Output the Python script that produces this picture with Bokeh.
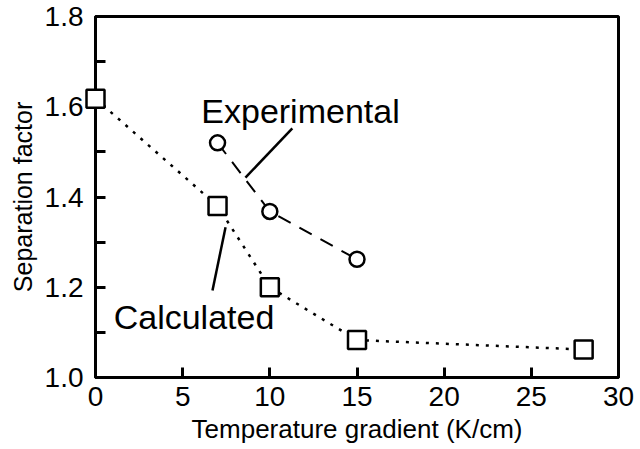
from bokeh.plotting import figure
from bokeh.models import Range1d, FixedTicker, ColumnDataSource
from bokeh.core.properties import value
from bokeh.embed import file_html
from bokeh.resources import INLINE

# Data
calc_x = [0, 7, 10, 15, 28]
calc_y = [1.618, 1.38, 1.20, 1.083, 1.062]
exp_x = [7, 10, 15]
exp_y = [1.52, 1.368, 1.262]

x_ticks = [0, 5, 10, 15, 20, 25, 30]
y_ticks = [1.0, 1.2, 1.4, 1.6, 1.8]
y_minor = [1.1, 1.3, 1.5, 1.7]
y_labels = ["1.0", "1.2", "1.4", "1.6", "1.8"]

# Annotation labels and leader lines (data coordinates)
ann_text = ["Experimental", "Calculated"]
ann_x = [11.76, 5.65]
ann_y = [1.59, 1.135]
lead_x0 = [11.29, 7.46]
lead_y0 = [1.552, 1.333]
lead_x1 = [8.6, 6.71]
lead_y1 = [1.443, 1.193]

FONT = "Liberation Sans"

p = figure(width=640, height=449, output_backend="svg", toolbar_location=None,
           x_range=Range1d(0, 30), y_range=Range1d(1.0, 1.8),
           min_border_left=95, min_border_right=22, min_border_top=16, min_border_bottom=72)

p.background_fill_color = "white"
p.border_fill_color = "white"
p.grid.visible = False
p.outline_line_color = "black"
p.outline_line_width = 3
p.outline_line_alpha = 1.0

for ax in (p.xaxis[0], p.yaxis[0]):
    ax.axis_line_width = 3
    ax.axis_line_color = "black"
    ax.major_tick_line_width = 3
    ax.minor_tick_line_width = 3
    ax.major_tick_in = 10
    ax.major_tick_out = 0
    ax.minor_tick_in = 10
    ax.minor_tick_out = 0
    ax.major_label_text_font = FONT
    ax.major_label_text_font_size = "28px"
    ax.major_label_text_color = "black"
    ax.axis_label_text_font = FONT
    ax.axis_label_text_font_style = "normal"
    ax.axis_label_text_color = "black"

p.xaxis.ticker = FixedTicker(ticks=x_ticks)
p.xaxis.minor_tick_line_color = None
p.xaxis.axis_label = "Temperature gradient (K/cm)"
p.xaxis.axis_label_text_font_size = "26px"
p.xaxis.major_label_standoff = 9
p.xaxis.axis_label_standoff = 5

p.yaxis.ticker = FixedTicker(ticks=y_ticks, minor_ticks=y_minor)
p.yaxis.major_label_overrides = {t: l for t, l in zip(y_ticks, y_labels)}
p.yaxis.axis_label = "Separation factor"
p.yaxis.axis_label_text_font_size = "25px"
p.yaxis.major_label_standoff = 12
p.yaxis.axis_label_standoff = 5

# Lines
p.line(calc_x, calc_y, line_color="black", line_width=2.5, line_dash="3 7")
p.line(exp_x, exp_y, line_color="black", line_width=2, line_dash="14 10")

# Markers (overlay level so the square at x=0 is not clipped by the frame)
sq = p.scatter(calc_x, calc_y, marker="square", size=18, fill_color="white",
               line_color="black", line_width=2.5)
sq.level = "overlay"
ci = p.scatter(exp_x, exp_y, marker="circle", size=15, fill_color="white",
               line_color="black", line_width=2.5)

# Leader lines and annotation texts
p.segment(x0=lead_x0, y0=lead_y0, x1=lead_x1, y1=lead_y1, line_color="black", line_width=2.5)
src = ColumnDataSource(dict(x=ann_x, y=ann_y, t=ann_text))
p.text(x="x", y="y", text="t", source=src, text_font=value(FONT), text_font_size="34px",
       text_align="center", text_baseline="middle", text_color="black")

open("out.html", "w").write(file_html(p, INLINE))
